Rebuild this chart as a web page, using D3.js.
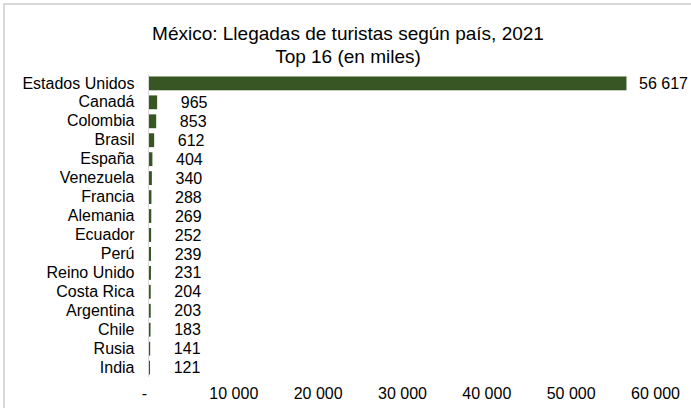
<!DOCTYPE html>
<html>
<head>
<meta charset="utf-8">
<script src="https://cdn.jsdelivr.net/npm/d3@7"></script>
<style>
  body { margin: 0; background: #fff; }
  text { font-family: "Liberation Sans", Arial, sans-serif; fill: #000; }
</style>
</head>
<body>
<div id="chart"></div>
<script>
const paises = ["Estados Unidos", "Canadá", "Colombia", "Brasil", "España", "Venezuela", "Francia", "Alemania",
  "Ecuador", "Perú", "Reino Unido", "Costa Rica", "Argentina", "Chile", "Rusia", "India"]
const llegadas = [56617, 965, 853, 612, 404, 340, 288, 269, 252, 239, 231, 204, 203, 183, 141, 121]
const ticks = [0, 10000, 20000, 30000, 40000, 50000, 60000]
const titulo = ["México: Llegadas de turistas según país, 2021", "Top 16 (en miles)"]

const width = 691, height = 408

// spanish thousands with a space, zero shown as "-"
const fmt = v => v === 0 ? "-" : d3.format(",")(v).replace(/,/g, " ")

let svg = d3.select("#chart").append("svg")
    .attr("width", width)
    .attr("height", height)

// chart frame (cut by the picture on the right and bottom)
svg.append("rect")
    .attr("x", 4).attr("y", 4)
    .attr("width", 800).attr("height", 500)
    .attr("fill", "none")
    .attr("stroke", "#d9d9d9")
    .attr("stroke-width", 2)

svg.selectAll(".titulo")
    .data(titulo)
    .enter().append("text")
    .attr("x", 348)
    .attr("y", (d, i) => 40 + i * 23)
    .attr("text-anchor", "middle")
    .style("font-size", "19px")
    .text(d => d)

let xScale = d3.scaleLinear()
    .domain([0, 60000])
    .range([149, 655])

let yScale = d3.scaleBand()
    .domain(paises)
    .range([74, 377])
    .paddingInner(0.27)
    .paddingOuter(0.13)

// x axis labels only
let xAxis = svg.append("g")
    .attr("transform", "translate(0,399)")
    .call(d3.axisBottom(xScale).tickValues(ticks).tickFormat(fmt).tickSize(0).tickPadding(0))
xAxis.select(".domain").remove()
xAxis.selectAll("text")
    .style("font-size", "16px")
    .attr("y", 0)
    .attr("dy", 0)
    .attr("dx", d => d === 0 ? -5 : 0)

// y axis
let yAxis = svg.append("g")
    .attr("transform", "translate(148.5,0)")
    .call(d3.axisLeft(yScale).tickSize(0).tickPadding(14))
yAxis.select(".domain")
    .attr("stroke", "#d9d9d9")
    .attr("d", "M0,74V377")
yAxis.selectAll("text").style("font-size", "16px")

svg.selectAll(".bar")
    .data(llegadas)
    .enter().append("rect")
    .attr("x", xScale(0))
    .attr("y", (d, i) => yScale(paises[i]))
    .attr("width", d => xScale(d) - xScale(0))
    .attr("height", yScale.bandwidth())
    .attr("fill", "#375623")

svg.selectAll(".etiqueta")
    .data(llegadas)
    .enter().append("text")
    .attr("x", d => xScale(d) + 37)
    .attr("y", (d, i) => yScale(paises[i]) + yScale.bandwidth() / 2)
    .attr("dy", "0.35em")
    .attr("text-anchor", "middle")
    .style("font-size", "16px")
    .text(d => fmt(d))
</script>
</body>
</html>
